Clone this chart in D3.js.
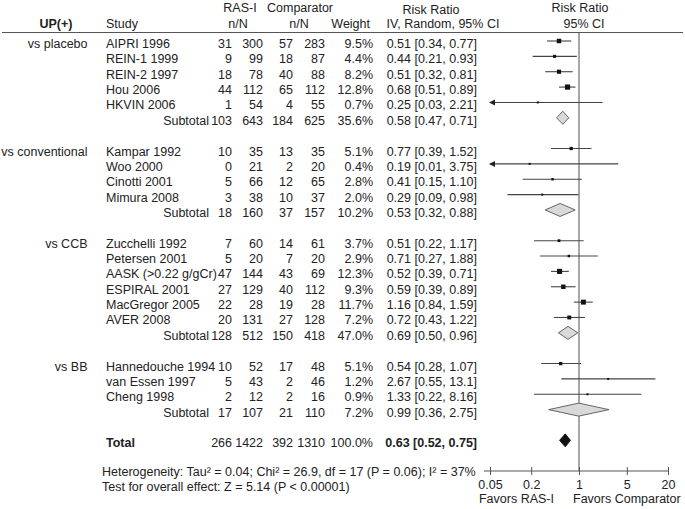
<!DOCTYPE html>
<html><head><meta charset="utf-8">
<script src="https://cdn.jsdelivr.net/npm/d3@7/dist/d3.min.js"></script>
<style>body{margin:0;background:#fff}svg{display:block}text{font-family:"Liberation Sans",Arial,sans-serif;font-size:12.5px;fill:#222}</style>
</head><body><svg id="c" width="685" height="509"></svg>
<script>
const groups = ["vs placebo","vs conventional","vs CCB","vs BB"];
const studyGroup = [0,0,0,0,0, 1,1,1,1, 2,2,2,2,2,2, 3,3,3];
const studyNames = ["AIPRI 1996","REIN-1 1999","REIN-2 1997","Hou 2006","HKVIN 2006",
  "Kampar 1992","Woo 2000","Cinotti 2001","Mimura 2008",
  "Zucchelli 1992","Petersen 2001","AASK (>0.22 g/gCr)","ESPIRAL 2001","MacGregor 2005","AVER 2008",
  "Hannedouche 1994","van Essen 1997","Cheng 1998"];
const rasEvents = [31,9,18,44,1, 10,0,5,3, 7,5,47,27,22,20, 10,5,2];
const rasTotal  = [300,99,78,112,54, 35,21,66,38, 60,20,144,129,28,131, 52,43,12];
const compEvents= [57,18,40,65,4, 13,2,12,10, 14,7,43,40,19,27, 17,2,2];
const compTotal = [283,87,88,112,55, 35,20,65,37, 61,20,69,112,28,128, 48,46,16];
const weights   = [9.5,4.4,8.2,12.8,0.7, 5.1,0.4,2.8,2.0, 3.7,2.9,12.3,9.3,11.7,7.2, 5.1,1.2,0.9];
const rr        = [0.51,0.44,0.51,0.68,0.25, 0.77,0.19,0.41,0.29, 0.51,0.71,0.52,0.59,1.16,0.72, 0.54,2.67,1.33];
const lo        = [0.34,0.21,0.32,0.51,0.03, 0.39,0.01,0.15,0.09, 0.22,0.27,0.39,0.39,0.84,0.43, 0.28,0.55,0.22];
const hi        = [0.77,0.93,0.81,0.89,2.21, 1.52,3.75,1.10,0.98, 1.17,1.88,0.71,0.89,1.59,1.22, 1.07,13.1,8.16];
const hiLabel   = ["0.77","0.93","0.81","0.89","2.21","1.52","3.75","1.10","0.98","1.17","1.88","0.71","0.89","1.59","1.22","1.07","13.1","8.16"];
// subtotals per group
const subRasE = [103,18,128,17], subRasN = [643,160,512,107];
const subCompE = [184,37,150,21], subCompN = [625,157,418,110];
const subW = ["35.6%","10.2%","47.0%","7.2%"];
const subRR = [0.58,0.53,0.69,0.99], subLo = [0.47,0.32,0.50,0.36], subHi = [0.71,0.88,0.96,2.75];
const subLabel = ["0.58 [0.47, 0.71]","0.53 [0.32, 0.88]","0.69 [0.50, 0.96]","0.99 [0.36, 2.75]"];
// total
const totalVals = ["266","1422","392","1310","100.0%"];
const totalRR = 0.63, totalLo = 0.52, totalHi = 0.75;
const totalLabel = "0.63 [0.52, 0.75]";
const tickValues = [0.05,0.2,1,5,20];
const tickLabels = ["0.05","0.2","1","5","20"];
const heteroText = "Heterogeneity: Tau² = 0.04; Chi² = 26.9, df = 17 (P = 0.06); I² = 37%";
const testText = "Test for overall effect: Z = 5.14 (P < 0.00001)";

const fmt2 = d3.format(".2f");
const rows = [];
let r = 0;
groups.forEach((g, gi) => {
  const idx = studyGroup.map((v,i)=>v===gi?i:-1).filter(i=>i>=0);
  idx.forEach((i, k) => {
    rows.push({type:"study", row:r++, group: k===0?g:null, name:studyNames[i],
      c:[rasEvents[i],rasTotal[i],compEvents[i],compTotal[i]], w:weights[i].toFixed(1)+"%",
      rr:rr[i], lo:lo[i], hi:hi[i], wt:weights[i],
      label: fmt2(rr[i])+" ["+fmt2(lo[i])+", "+hiLabel[i]+"]"});
  });
  rows.push({type:"sub", row:r++, name:"Subtotal", c:[subRasE[gi],subRasN[gi],subCompE[gi],subCompN[gi]],
    w:subW[gi], rr:subRR[gi], lo:subLo[gi], hi:subHi[gi], label:subLabel[gi]});
  r++;
});
rows.push({type:"total", row:r, name:"Total", c:totalVals.slice(0,4), w:totalVals[4], rr:totalRR, lo:totalLo, hi:totalHi, label:totalLabel});

const svg = d3.select("#c");
const y = d3.scaleLinear().domain([0, 26]).range([43.5, 43.5 + 26*15.36]);
const x = d3.scaleLog().domain([0.05, 20]).range([490, 668]);
const off = 4.5, markOff = -2.5;
const colX = [232, 263, 293, 325, 373, 477];

// header
const hdr = svg.append("g");
hdr.append("text").attr("x",56).attr("y",27.5).attr("text-anchor","middle").style("font-weight","bold").text("UP(+)");
hdr.append("text").attr("x",106).attr("y",27.5).text("Study");
hdr.append("text").attr("x",240).attr("y",12).attr("text-anchor","middle").text("RAS-I");
hdr.append("text").attr("x",238).attr("y",27.5).attr("text-anchor","middle").text("n/N");
hdr.append("text").attr("x",300).attr("y",12).attr("text-anchor","middle").text("Comparator");
hdr.append("text").attr("x",299).attr("y",27.5).attr("text-anchor","middle").text("n/N");
hdr.append("text").attr("x",370).attr("y",27.5).attr("text-anchor","end").text("Weight");
hdr.append("text").attr("x",431).attr("y",14).attr("text-anchor","middle").text("Risk Ratio");
hdr.append("text").attr("x",443).attr("y",28).attr("text-anchor","middle").text("IV, Random, 95% CI");
hdr.append("text").attr("x",580).attr("y",12).attr("text-anchor","middle").text("Risk Ratio");
hdr.append("text").attr("x",584).attr("y",27.5).attr("text-anchor","middle").text("95% CI");
svg.append("line").attr("x1",2).attr("x2",683).attr("y1",32.5).attr("y2",32.5).attr("stroke","#555").attr("stroke-width",1);

// vertical null line
svg.append("line").attr("x1",x(1)).attr("x2",x(1)).attr("y1",33).attr("y2",471).attr("stroke","#777").attr("stroke-width",1.3);

// rows text
const rg = svg.selectAll("g.row").data(rows).enter().append("g").attr("class","row");
rg.filter(d=>d.group).append("text").attr("x",87.5).attr("y",d=>y(d.row)+off).attr("text-anchor","end").text(d=>d.group);
rg.append("text").attr("x",d=>d.type==="sub"?209:106).attr("y",d=>y(d.row)+off)
  .attr("text-anchor",d=>d.type==="sub"?"end":"start")
  .style("font-weight",d=>d.type==="total"?"bold":null).text(d=>d.name);
[0,1,2,3].forEach(k=>{
  rg.append("text").attr("x",colX[k]).attr("y",d=>y(d.row)+off).attr("text-anchor","end").text(d=>d.c[k]);
});
rg.append("text").attr("x",colX[4]).attr("y",d=>y(d.row)+off).attr("text-anchor","end").text(d=>d.w);
rg.append("text").attr("x",colX[5]).attr("y",d=>y(d.row)+off).attr("text-anchor","end")
  .style("font-weight",d=>d.type==="total"?"bold":null).text(d=>d.label);

// study marks
const st = rg.filter(d=>d.type==="study");
st.append("line").attr("x1",d=>x(Math.max(d.lo,0.05))).attr("x2",d=>x(Math.min(d.hi,20)))
  .attr("y1",d=>y(d.row)+markOff).attr("y2",d=>y(d.row)+markOff).attr("stroke","#444").attr("stroke-width",1.1);
st.filter(d=>d.lo<0.05).append("path")
  .attr("d",d=>{const yy=y(d.row)+markOff, x0=x(0.05)-1; return `M${x0},${yy}L${x0+6},${yy-3}L${x0+6},${yy+3}Z`;})
  .attr("fill","#222");
const side = d=>Math.max(2,1.45*Math.sqrt(d.wt));
st.append("rect").attr("x",d=>x(d.rr)-side(d)/2)
  .attr("y",d=>y(d.row)+markOff-side(d)/2)
  .attr("width",side).attr("height",side)
  .attr("fill","#111");
// diamonds
rg.filter(d=>d.type!=="study").append("path")
  .attr("d",d=>{const yy=y(d.row)+markOff, h=6.5; return `M${x(d.lo)},${yy}L${x(d.rr)},${yy-h}L${x(d.hi)},${yy}L${x(d.rr)},${yy+h}Z`;})
  .attr("fill",d=>d.type==="total"?"#111":"#d9d9d9").attr("stroke",d=>d.type==="total"?"#111":"#555").attr("stroke-width",0.9);

// axis
const ax = svg.append("g").attr("transform","translate(0,471)")
  .call(d3.axisBottom(x).tickValues(tickValues).tickFormat((d,i)=>tickLabels[i]).tickSize(4).tickPadding(6));
ax.select(".domain").attr("stroke","#555").attr("d",`M${x(0.05)-6},0H${x(20)}`);
ax.selectAll(".tick line").attr("y1",-4).attr("y2",4).attr("stroke","#555");
ax.selectAll(".tick text").style("font-size","12.5px").attr("fill","#222").attr("dy",null).attr("y",18)
  .style("font-family",'"Liberation Sans",Arial,sans-serif');

svg.append("text").attr("x",554).attr("y",503).attr("text-anchor","end").text("Favors RAS-I");
svg.append("text").attr("x",573).attr("y",503).text("Favors Comparator");
svg.append("text").attr("x",102).attr("y",475.5).text(heteroText);
svg.append("text").attr("x",102).attr("y",490.5).text(testText);
</script></body></html>
